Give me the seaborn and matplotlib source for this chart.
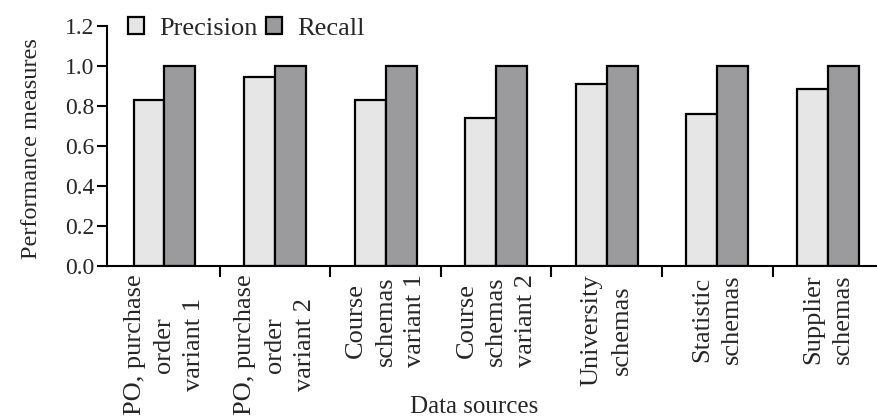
import numpy as np
import pandas as pd
import seaborn as sns
import matplotlib.pyplot as plt
from matplotlib.ticker import FixedLocator



#=====================================================================================================
# Data
sources = ['PO, purchase\norder\nvariant 1',
           'PO, purchase\norder\nvariant 2',
           'Course\nschemas\nvariant 1',
           'Course\nschemas\nvariant 2',
           'University\nschemas',
           'Statistic\nschemas',
           'Supplier\nschemas']
precision = [0.83, 0.945, 0.83, 0.74, 0.91, 0.76, 0.885]
recall = [1.0, 1.0, 1.0, 1.0, 1.0, 1.0, 1.0]
yticks = [0.0, 0.2, 0.4, 0.6, 0.8, 1.0, 1.2]

df = pd.DataFrame({'source': sources * 2,
                   'measure': ['Precision'] * len(sources) + ['Recall'] * len(sources),
                   'value': precision + recall})



#=====================================================================================================
sns.set_style('ticks')
plt.rcParams['font.family'] = ['Liberation Serif', 'DejaVu Serif']

fig = plt.figure(figsize=(8.77, 4.16), dpi=100)
ax = fig.add_axes([0.122, 0.3606, 0.885, 0.5769])

sns.barplot(data=df, x='source', y='value', hue='measure', order=sources,
            palette=['#e6e6e6', '#9b9a9c'], width=0.56, gap=0,
            edgecolor='black', linewidth=1.6, saturation=1, ax=ax)

ax.set_ylim(0, 1.2)
ax.set_xlim(-0.52, 6.5)
ax.set_yticks(yticks)
ax.set_yticklabels([f'{v:.1f}' for v in yticks], fontsize=17)
ax.set_xticks(range(len(sources)))
ax.set_xticklabels(sources, rotation=90, fontsize=19, va='top', ha='center',
                   multialignment='center', linespacing=1.45)
ax.xaxis.set_minor_locator(FixedLocator(np.arange(0.5, len(sources), 1)))
ax.tick_params(axis='x', which='major', length=0, pad=6)
ax.tick_params(axis='x', which='minor', length=8, width=1.5, direction='out', color='black')
ax.tick_params(axis='y', length=7, width=1.5, color='black', pad=2)

for s in ['top', 'right']:
    ax.spines[s].set_visible(False)
for s in ['left', 'bottom']:
    ax.spines[s].set_linewidth(1.5)
    ax.spines[s].set_color('black')

ax.set_ylabel('Performance measures', fontsize=17.5)
ax.yaxis.set_label_coords(-0.084, 0.49)
ax.set_xlabel('Data sources', fontsize=18)
ax.xaxis.set_label_coords(0.473, -0.54)

ax.legend(loc='center left', bbox_to_anchor=(0.027, 0.99), ncol=2, frameon=False,
          fontsize=19, handlelength=0.6, handleheight=0.6, handletextpad=0.6,
          columnspacing=0.3, borderaxespad=0, borderpad=0)

fig.savefig('out.png', dpi=100)
